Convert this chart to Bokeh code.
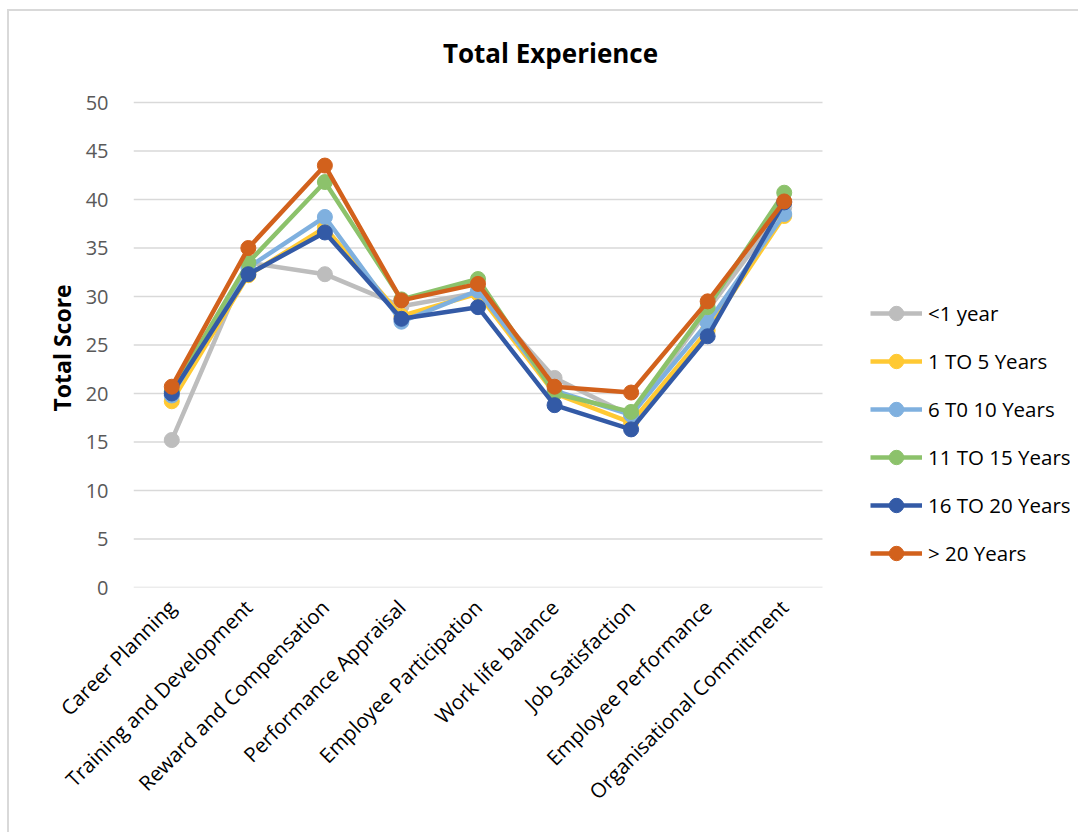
from bokeh.plotting import figure
from bokeh.models import (Range1d, FixedTicker, Legend, LegendItem, Label, Title,
                          InlineStyleSheet)
from bokeh.embed import file_html
from bokeh.resources import INLINE
from math import pi

categories = ["Career Planning", "Training and Development", "Reward and Compensation",
              "Performance Appraisal", "Employee Participation", "Work life balance",
              "Job Satisfaction", "Employee Performance", "Organisational Commitment"]

series_names = ["<1 year", "1 TO 5 Years", "6 T0 10 Years", "11 TO 15 Years",
                "16 TO 20 Years", "> 20 Years"]

less_than_1 = [15.2, 33.5, 32.3, 29.0, 30.4, 21.6, 17.7, 28.6, 39.2]
yrs_1_5 = [19.2, 32.2, 37.1, 28.0, 30.3, 20.0, 17.0, 26.5, 38.3]
yrs_6_10 = [19.8, 33.0, 38.2, 27.4, 30.6, 20.3, 17.8, 27.3, 38.5]
yrs_11_15 = [20.2, 33.5, 41.8, 29.7, 31.8, 20.0, 18.1, 28.9, 40.7]
yrs_16_20 = [20.0, 32.3, 36.6, 27.7, 28.9, 18.8, 16.3, 25.9, 39.7]
over_20 = [20.7, 35.0, 43.5, 29.6, 31.3, 20.7, 20.1, 29.5, 39.8]

series_values = [less_than_1, yrs_1_5, yrs_6_10, yrs_11_15, yrs_16_20, over_20]
colors = ["#BDBDBD", "#FFC933", "#7FB0DF", "#8CC26B", "#335AA6", "#D2611C"]

y_ticks = list(range(0, 51, 5))

FONT = "Open Sans"
GRID = "#D9D9D9"

# geometry of the plotting area (pixels)
W, H = 1078, 832
LEFT, RIGHT_EDGE, TOP, BOTTOM = 133, 1070, 10, 587
PLOT_RIGHT = 822          # where the category bands end
Y_TOP_PX = 102            # pixel row of the 50 gridline

n = len(categories)
xs = list(range(n))
band = (PLOT_RIGHT - LEFT) / n
x_end = -0.5 + (RIGHT_EDGE - LEFT) / band
y_end = y_ticks[-1] * (BOTTOM - TOP) / (BOTTOM - Y_TOP_PX)

p = figure(width=W, height=H, x_range=Range1d(-0.5, x_end), y_range=Range1d(0, y_end),
           output_backend="svg", toolbar_location=None,
           min_border_left=LEFT, min_border_right=W - RIGHT_EDGE,
           min_border_top=TOP, min_border_bottom=H - BOTTOM)
p.outline_line_color = None
p.background_fill_color = "white"
p.border_fill_color = "white"
p.xgrid.grid_line_color = None
p.ygrid.grid_line_color = None

# light frame around the chart
p.stylesheets = [InlineStyleSheet(css="""
:host { position: relative; }
:host::after { content: ""; position: absolute; left: 7px; top: 9px;
  width: 1100px; height: 900px; border: 2px solid #D9D9D9;
  pointer-events: none; z-index: 1000; }
""")]

# horizontal gridlines spanning the category bands only
p.segment(x0=-0.5, x1=n - 0.5, y0=y_ticks, y1=y_ticks, line_color=GRID, line_width=1.5)

p.yaxis.ticker = FixedTicker(ticks=y_ticks)
p.yaxis.axis_line_color = None
p.yaxis.major_tick_line_color = None
p.yaxis.minor_tick_line_color = None
p.yaxis.major_label_text_font = FONT
p.yaxis.major_label_text_font_size = "20px"
p.yaxis.major_label_text_color = "#595959"
p.yaxis.major_label_standoff = 19

# y axis title, centred on the 0-50 value span
p.add_layout(Title(text="Total Score", align="left", offset=176, standoff=10,
                   text_font=FONT, text_font_style="bold", text_font_size="23px",
                   text_color="black"), "left")

p.xaxis.ticker = FixedTicker(ticks=xs)
p.xaxis.major_label_overrides = {i: c for i, c in enumerate(categories)}
p.xaxis.axis_line_color = None
p.xaxis.major_tick_line_color = None
p.xaxis.minor_tick_line_color = None
p.xaxis.major_label_orientation = pi / 4
p.xaxis.major_label_text_font = FONT
p.xaxis.major_label_text_font_size = "20.5px"
p.xaxis.major_label_text_color = "black"
p.xaxis.major_label_standoff = 10

items = []
for name, vals, col in zip(series_names, series_values, colors):
    ln = p.line(xs, vals, line_color=col, line_width=4.5)
    pt = p.scatter(xs, vals, size=15, fill_color=col, line_color=col)
    items.append(LegendItem(label=name, renderers=[ln, pt]))

legend = Legend(items=items, location=(737, 16), border_line_color=None,
                background_fill_alpha=0, padding=0, margin=0, spacing=12,
                glyph_width=52, glyph_height=36, label_height=20,
                label_standoff=6, label_text_font=FONT,
                label_text_font_size="20.5px", label_text_color="black")
p.add_layout(legend, "center")

p.add_layout(Label(x=550 - LEFT, y=BOTTOM - 52, x_units="screen", y_units="screen",
                   text="Total Experience", text_align="center",
                   text_baseline="middle", text_font=FONT,
                   text_font_style="bold", text_font_size="26px",
                   text_color="black"))

open("out.html", "w").write(file_html(p, INLINE))
